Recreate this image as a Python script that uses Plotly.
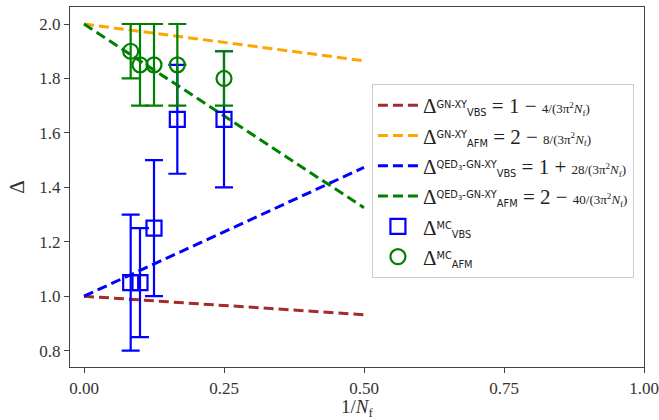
import plotly.graph_objects as go

# Analytic large-N lines (endpoints), x = 1/N_f
line_x = [0.0, 0.5]
gn_vbs_y = [1.0, 0.932]
gn_afm_y = [2.0, 1.865]
qed_vbs_y = [1.0, 1.473]
qed_afm_y = [2.0, 1.325]

# Monte Carlo data
mc_x = [1/12, 1/10, 1/8, 1/6, 1/4]
mc_vbs = [1.05, 1.05, 1.25, 1.65, 1.65]
mc_vbs_err = [0.25, 0.20, 0.25, 0.20, 0.25]
mc_afm = [1.90, 1.85, 1.85, 1.85, 1.80]
mc_afm_err = [0.10, 0.15, 0.15, 0.15, 0.10]

x_ticks = [0.0, 0.25, 0.5, 0.75, 1.0]
x_tick_labels = ["0.00", "0.25", "0.50", "0.75", "1.00"]
y_ticks = [0.8, 1.0, 1.2, 1.4, 1.6, 1.8, 2.0]
y_tick_labels = ["0.8", "1.0", "1.2", "1.4", "1.6", "1.8", "2.0"]

SANS = "DejaVu Sans"
def lab(sup, sub, rhs):
    return (f"Δ<span style='font-family:{SANS};font-size:14px'><sup>{sup}</sup><sub>{sub}</sub></span>"
            + rhs)

def frac(num):
    return f"<span style='font-size:13px'>{num}/(3π<sup>2</sup><i>N</i><sub>f</sub>)</span>"

fig = go.Figure()
dash = "10px,5px"
lines = [
    (gn_vbs_y, "#A52A2A", lab("GN-XY", "VBS", " = 1 − " + frac(4))),
    (gn_afm_y, "#FFA500", lab("GN-XY", "AFM", " = 2 − " + frac(8))),
    (qed_vbs_y, "#0000FF", lab("QED<sub>3</sub>-GN-XY", "VBS", " = 1 + " + frac(28))),
    (qed_afm_y, "#008000", lab("QED<sub>3</sub>-GN-XY", "AFM", " = 2 − " + frac(40))),
]
for y, c, name in lines:
    fig.add_trace(go.Scatter(x=line_x, y=y, mode="lines", name=name,
                             line=dict(color=c, width=3, dash=dash)))

fig.add_trace(go.Scatter(
    x=mc_x, y=mc_vbs, mode="markers", name=lab("MC", "VBS", ""),
    marker=dict(symbol="square-open", size=15, color="#0000FF", line=dict(width=2.2, color="#0000FF")),
    error_y=dict(type="data", array=mc_vbs_err, visible=True, color="#0000FF", thickness=2.2, width=9)))
fig.add_trace(go.Scatter(
    x=mc_x, y=mc_afm, mode="markers", name=lab("MC", "AFM", ""),
    marker=dict(symbol="circle-open", size=15, color="#008000", line=dict(width=2.2, color="#008000")),
    error_y=dict(type="data", array=mc_afm_err, visible=True, color="#008000", thickness=2.2, width=9)))

axis_common = dict(showline=True, linecolor="#444", linewidth=1.3, mirror=True,
                   ticks="outside", ticklen=5, tickwidth=1.2, tickcolor="#444",
                   showgrid=False, zeroline=False, automargin=False,
                   tickfont=dict(family="Liberation Serif", size=17, color="#333"))

fig.update_layout(
    width=659, height=420,
    margin=dict(l=70, r=15, t=7, b=53, autoexpand=False),
    plot_bgcolor="white", paper_bgcolor="white",
    font=dict(family="Liberation Serif", size=16, color="#333"),
    xaxis=dict(range=[-0.025, 1.0], tickvals=x_ticks, ticktext=x_tick_labels,
               title=dict(text="1/<i>N</i><sub>f</sub>", standoff=4, font=dict(size=19)),
               **axis_common),
    yaxis=dict(range=[0.74, 2.0625], tickvals=y_ticks, ticktext=y_tick_labels,
               title=dict(text="Δ", standoff=8, font=dict(size=21)),
               **axis_common),
    legend=dict(x=0.526, y=0.786, xanchor="left", yanchor="top",
                bgcolor="rgba(255,255,255,0.85)", bordercolor="#ccc", borderwidth=1,
                font=dict(family="Liberation Serif", size=21, color="#222"),
                tracegroupgap=6, itemwidth=40),
    showlegend=True,
)

fig.write_html("out.html", config={"displayModeBar": False},
               post_script="document.body.style.margin='0px';")
